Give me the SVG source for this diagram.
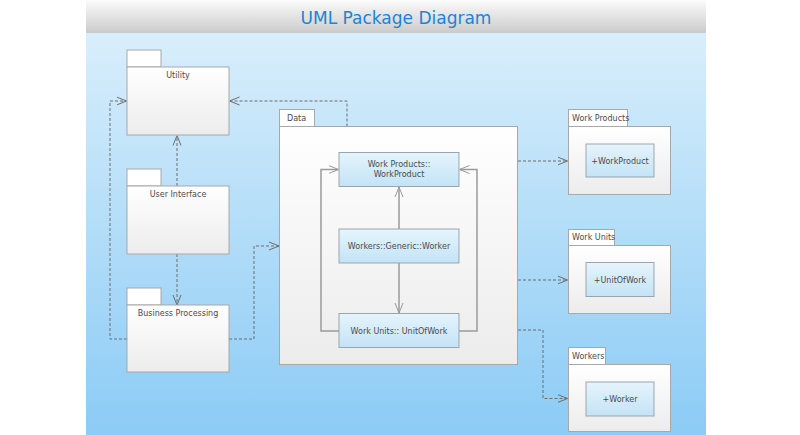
<svg xmlns="http://www.w3.org/2000/svg" width="800" height="435" viewBox="0 0 800 435">
<defs>
<linearGradient id="bg" x1="0" y1="0" x2="0" y2="1">
<stop offset="0" stop-color="#dff1fc"/>
<stop offset="1" stop-color="#8bcbf5"/>
</linearGradient>
<linearGradient id="title" x1="0" y1="0" x2="0" y2="1">
<stop offset="0" stop-color="#fbfbfb"/>
<stop offset="1" stop-color="#cbcbcb"/>
</linearGradient>
<linearGradient id="pkg" x1="0" y1="0" x2="0" y2="1">
<stop offset="0" stop-color="#ffffff"/>
<stop offset="1" stop-color="#ececec"/>
</linearGradient>
<linearGradient id="cls" x1="0" y1="0" x2="0" y2="1">
<stop offset="0" stop-color="#e6f4fc"/>
<stop offset="1" stop-color="#c3e3f6"/>
</linearGradient>
<marker id="openDash" viewBox="0 0 10 10" refX="10" refY="5" markerWidth="10" markerHeight="10" markerUnits="userSpaceOnUse" orient="auto">
<path d="M0,1 L10,5 L0,9" fill="none" stroke="#6d6d6d" stroke-width="1"/>
</marker>
<marker id="openSolid" viewBox="0 0 10 10" refX="10" refY="5" markerWidth="10" markerHeight="10" markerUnits="userSpaceOnUse" orient="auto">
<path d="M0,1 L10,5 L0,9" fill="none" stroke="#9a9a9a" stroke-width="1"/>
</marker>
</defs>
<style>
.tab{fill:#ffffff;stroke:#a8a8a8;stroke-width:1}
.body{fill:url(#pkg);stroke:#a8a8a8;stroke-width:1}
.cls{fill:url(#cls);stroke:#9aa5ad;stroke-width:1}
.t{font-family:"DejaVu Sans",sans-serif;font-size:8px;fill:#4a4a4a;text-anchor:middle}
.tl{font-family:"DejaVu Sans",sans-serif;font-size:8px;fill:#4a4a4a}
.dep{fill:none;stroke:#6d6d6d;stroke-width:1;stroke-dasharray:3,2;marker-end:url(#openDash)}
.sol{fill:none;stroke:#9a9a9a;stroke-width:1.5;marker-end:url(#openSolid)}
</style>
<rect x="86" y="0" width="620" height="435" fill="url(#bg)"/>
<rect x="86" y="0" width="620" height="33" fill="url(#title)"/>
<text x="396" y="24" font-family="DejaVu Sans,sans-serif" font-size="17" fill="#1b84d6" text-anchor="middle">UML Package Diagram</text>

<g id="connectors">
<path class="dep" d="M177,186 V135.5"/>
<path class="dep" d="M177,254 V305"/>
<path class="dep" d="M127,339 H110 V101 H126.5"/>
<path class="dep" d="M229,339 H254 V246 H279"/>
<path class="dep" d="M347,126.5 V101 H229.5"/>
<path class="dep" d="M518,161 H567.5"/>
<path class="dep" d="M518,280 H567.5"/>
<path class="dep" d="M518,330 H543 V398.5 H567.5"/>
</g>

<g id="utility">
<rect class="tab" x="127" y="50" width="34" height="17"/>
<rect class="body" x="127" y="67" width="102" height="68"/>
<text class="t" x="178" y="78">Utility</text>
</g>
<g id="user-interface">
<rect class="tab" x="127" y="169" width="34" height="17"/>
<rect class="body" x="127" y="186" width="102" height="68"/>
<text class="t" x="178" y="197">User Interface</text>
</g>
<g id="business-processing">
<rect class="tab" x="127" y="288" width="34" height="17"/>
<rect class="body" x="127" y="305" width="102" height="67"/>
<text class="t" x="178" y="316">Business Processing</text>
</g>

<g id="data">
<rect class="tab" x="279.5" y="109.5" width="35" height="17"/>
<rect class="body" x="279.5" y="126.5" width="238" height="238"/>
<text class="tl" x="287" y="121">Data</text>
</g>

<g id="inner-connectors">
<path class="sol" d="M399,229 V187"/>
<path class="sol" d="M399,263 V313"/>
<path class="sol" d="M339,331 H321 V169.5 H338.5"/>
<path class="sol" d="M459,331 H477 V169.5 H459.5"/>
</g>

<g id="workproduct-class">
<rect class="cls" x="339" y="152.5" width="120" height="34"/>
<text class="t" x="399" y="167">Work Products::</text>
<text class="t" x="399" y="177">WorkProduct</text>
</g>
<g id="worker-class">
<rect class="cls" x="339" y="229" width="120" height="34"/>
<text class="t" x="399" y="249">Workers::Generic::Worker</text>
</g>
<g id="unitofwork-class">
<rect class="cls" x="339" y="313.5" width="120" height="34"/>
<text class="t" x="399" y="334">Work Units:: UnitOfWork</text>
</g>

<g id="work-products">
<rect class="tab" x="568.5" y="109.5" width="59" height="17"/>
<rect class="body" x="568.5" y="126.5" width="102" height="68"/>
<text class="tl" x="572" y="121">Work Products</text>
<rect class="cls" x="586" y="144" width="68" height="33"/>
<text class="t" x="620" y="164">+WorkProduct</text>
</g>
<g id="work-units">
<rect class="tab" x="568.5" y="229.5" width="46" height="16"/>
<rect class="body" x="568.5" y="245.5" width="102" height="68"/>
<text class="tl" x="572" y="240">Work Units</text>
<rect class="cls" x="586" y="262.5" width="68" height="34"/>
<text class="t" x="620" y="283">+UnitOfWork</text>
</g>
<g id="workers">
<rect class="tab" x="568.5" y="347.5" width="37" height="17"/>
<rect class="body" x="568.5" y="364.5" width="102" height="67"/>
<text class="tl" x="572" y="359">Workers</text>
<rect class="cls" x="586" y="382" width="68" height="34"/>
<text class="t" x="620" y="402">+Worker</text>
</g>
</svg>
